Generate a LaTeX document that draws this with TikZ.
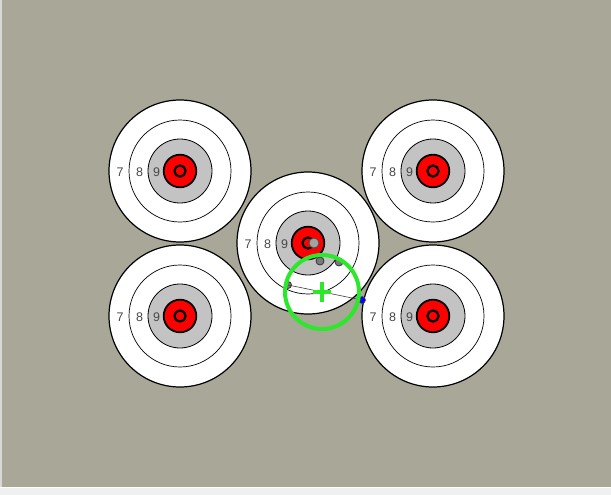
\documentclass[tikz,border=0pt]{standalone}
\usepackage{fontspec}
\setmainfont{Liberation Sans}
\usetikzlibrary{calc}
\definecolor{bg}{HTML}{A9A798}
\definecolor{ringgray}{HTML}{C3C3C3}
\definecolor{hitgreen}{HTML}{2BE82B}
\definecolor{holegray}{HTML}{7A7A7A}
\begin{document}
\begin{tikzpicture}[x=1pt,y=-1pt,
  num/.style={font=\fontsize{12.5}{13}\selectfont,text=black!72,inner sep=0pt},
  hole/.style={fill=holegray,draw=black!80,line width=0.8pt},
  target/.pic={
    \fill[white,draw=black,line width=1.2pt] (0,0) circle (71);
    \draw[black,line width=0.7pt] (0,0) circle (51);
    \fill[ringgray,draw=black,line width=0.8pt] (0,0) circle (32);
    \fill[red,draw=black,line width=1.8pt] (0,0) circle (16.3);
    \draw[black,line width=2.2pt] (0,0) circle (5.6);
    \node[num] (-n7) at (-60,1) {7};
    \node[num] (-n8) at (-40.5,1) {8};
    \node[num] (-n9) at (-23.5,1) {9};
  }]
\useasboundingbox (0,0) rectangle (611,495);
\fill[bg] (0,0) rectangle (611,495);
\fill[black!15] (0,0) rectangle (2,487);
\fill[white!94!black] (0,487) rectangle (611,495);
\draw[white,line width=0.8pt] (0,487.5) -- (611,487.5);

\pic (tl) at (180,171) {target};
\pic (tr) at (433,171) {target};
\pic (bl) at (180,316) {target};
\pic (br) at (433,316) {target};
\pic (c) at (308,243) {target};

% hits on the centre target
\fill[holegray!70,draw=black!70,line width=0.8pt] (314,243) circle (5);
\node[circle,hole,minimum size=8pt,inner sep=0pt] (h1) at (320,261) {};
\node[circle,hole,minimum size=8pt,inner sep=0pt] (h2) at (339,262) {};
\node[circle,hole,minimum size=7pt,inner sep=0pt] (h3) at (288,285) {};
\node[circle,fill=blue,draw=black!70,line width=0.6pt,minimum size=7pt,inner sep=0pt] (h4) at (362,300) {};
\draw[black!75,line width=0.6pt] (h3.center) -- (h4.center);

% aiming circle
\coordinate (aim) at (322,292);
\draw[hitgreen,line width=4pt] (aim) circle (37);
\draw[hitgreen,line width=3.2pt] ($(aim)+(-9,0)$) -- ($(aim)+(9,0)$);
\draw[hitgreen,line width=3.2pt] ($(aim)+(0,-10)$) -- ($(aim)+(0,10)$);
\end{tikzpicture}
\end{document}
